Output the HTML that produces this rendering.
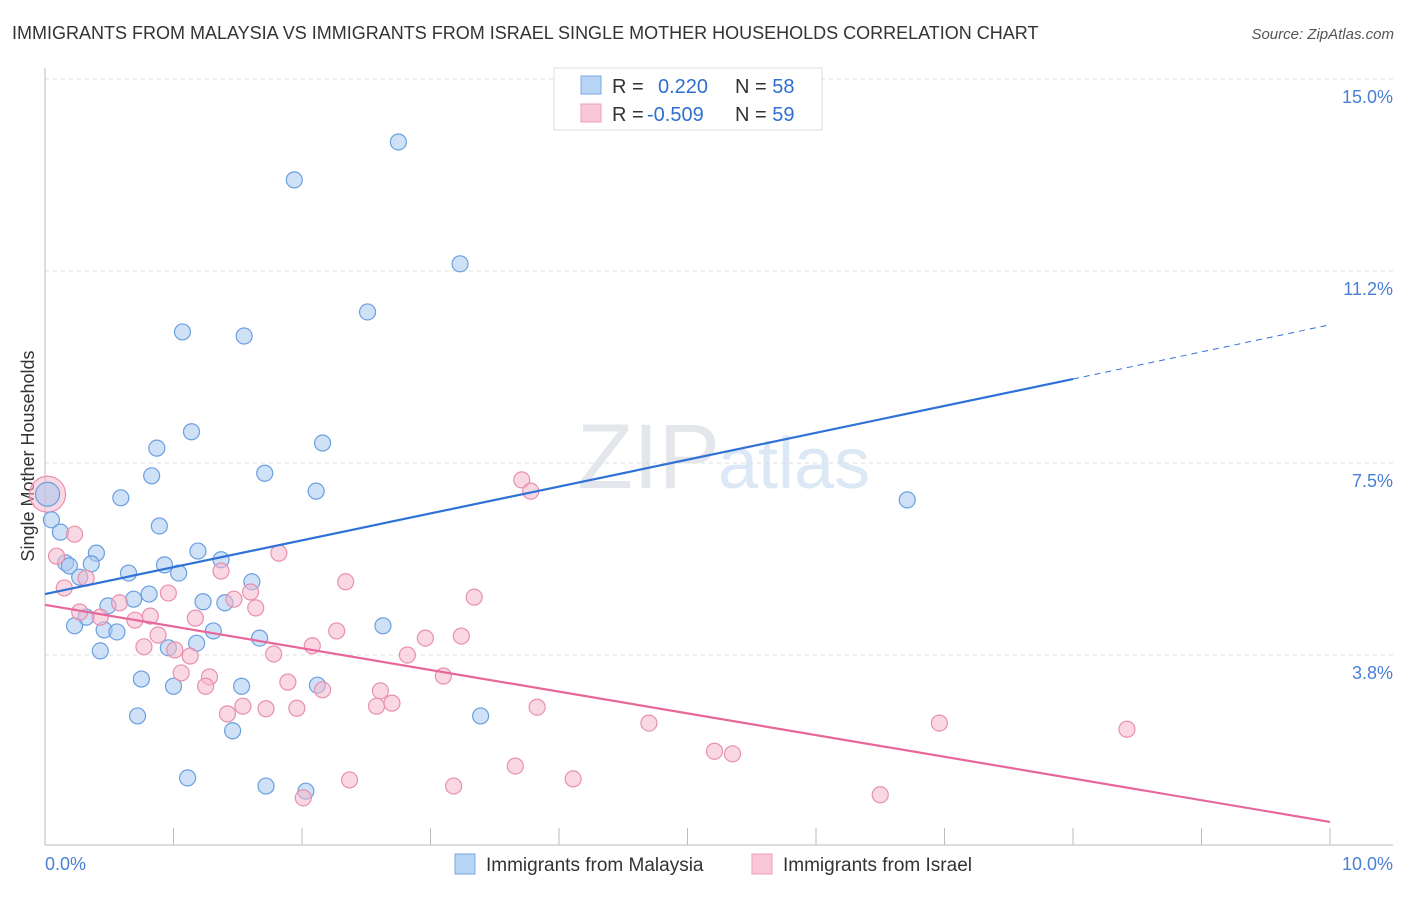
<!DOCTYPE html>
<html><head><meta charset="utf-8"><style>
body{margin:0;background:#fff;font-family:"Liberation Sans",sans-serif}
svg text{font-family:"Liberation Sans",sans-serif}
</style></head><body>
<svg id="c" width="1406" height="892">
<text x="12" y="39" font-size="18" fill="#333">IMMIGRANTS FROM MALAYSIA VS IMMIGRANTS FROM ISRAEL SINGLE MOTHER HOUSEHOLDS CORRELATION CHART</text>
<text x="1394" y="39" font-size="15" fill="#555" text-anchor="end" font-style="italic">Source: ZipAtlas.com</text>
<text x="720" y="488" font-size="92" fill="#e3e6ea" text-anchor="end" font-family="Liberation Serif">ZIP</text>
<text x="718" y="488" font-size="72" fill="#dce8f6">atlas</text>
<text transform="translate(34,456) rotate(-90)" font-size="18" fill="#333" text-anchor="middle">Single Mother Households</text>
<g id="grid"></g><g id="pts"></g><g id="trend"></g>
<g>
<rect x="554" y="68" width="268" height="62" fill="#fff" stroke="#ddd"/>
<rect x="581" y="76" width="20" height="18" fill="#b8d4f5" stroke="#7aaae6"/>
<rect x="581" y="104" width="20" height="18" fill="#f9c8d8" stroke="#ee9fba"/>
<text x="612" y="93" font-size="20" fill="#333">R = <tspan x="658" fill="#2f6fd0">0.220</tspan><tspan x="735" fill="#333">N = </tspan><tspan fill="#2f6fd0">58</tspan></text>
<text x="612" y="121" font-size="20" fill="#333">R = <tspan x="647" fill="#2f6fd0">-0.509</tspan><tspan x="735" fill="#333">N = </tspan><tspan fill="#2f6fd0">59</tspan></text>
</g>
<g>
<rect x="455" y="854" width="20" height="20" fill="#b8d4f5" stroke="#7aaae6"/>
<text x="486" y="871" font-size="19" fill="#333">Immigrants from Malaysia</text>
<rect x="752" y="854" width="20" height="20" fill="#f9c8d8" stroke="#ee9fba"/>
<text x="783" y="871" font-size="19" fill="#333">Immigrants from Israel</text>
</g>
<text x="45" y="870" font-size="18" fill="#4a7fd4">0.0%</text>
<text x="1393" y="870" font-size="18" fill="#4a7fd4" text-anchor="end">10.0%</text>
</svg>
<script>
const yTicks=[15.0,11.25,7.5,3.75];
const yTickLabels=["15.0%","11.2%","7.5%","3.8%"];
const xTicks=[0,1,2,3,4,5,6,7,8,9,10];
const blueX=[2.75,1.94,3.23,2.51,1.07,1.55,1.14,2.16,0.87,1.71,0.83,2.11,0.59,6.71,0.05,0.12,0.89,0.40,1.19,1.37,0.16,0.19,0.36,0.27,0.65,0.93,1.04,1.61,0.81,0.69,1.23,1.40,0.49,0.32,0.23,0.46,0.56,1.31,1.67,2.63,0.96,1.18,0.43,0.75,1.00,1.53,2.12,0.72,1.46,3.39,1.11,1.72,2.03];
const blueY=[13.77,13.03,11.39,10.45,10.06,9.98,8.11,7.89,7.79,7.30,7.25,6.95,6.82,6.78,6.39,6.15,6.27,5.74,5.78,5.61,5.55,5.49,5.53,5.27,5.35,5.51,5.35,5.18,4.94,4.84,4.79,4.77,4.71,4.49,4.32,4.24,4.20,4.22,4.08,4.32,3.89,3.98,3.83,3.28,3.14,3.14,3.16,2.56,2.27,2.56,1.35,1.19,1.09];
const pinkX=[0.23,0.09,0.32,0.15,0.58,0.27,0.43,0.70,0.82,0.96,1.17,1.37,1.82,1.60,1.47,1.64,0.88,0.77,1.01,1.13,1.06,1.28,1.25,1.78,1.42,1.54,1.72,1.89,1.96,2.08,2.16,2.27,2.34,2.61,2.58,2.70,2.82,2.96,3.24,3.34,3.10,3.71,3.78,3.83,4.70,5.21,5.35,3.66,4.11,3.18,2.37,2.01,6.50,6.96,8.42];
const pinkY=[6.11,5.68,5.25,5.06,4.77,4.59,4.49,4.43,4.51,4.96,4.47,5.39,5.74,4.98,4.84,4.67,4.14,3.91,3.85,3.73,3.40,3.32,3.14,3.77,2.60,2.75,2.70,3.22,2.71,3.93,3.07,4.22,5.18,3.05,2.75,2.81,3.75,4.08,4.12,4.88,3.34,7.17,6.95,2.73,2.42,1.87,1.82,1.58,1.33,1.19,1.31,0.96,1.02,2.42,2.30];
const bigPoint=[0.02,6.89];
const blueTrend=[[0,4.94],[8,9.14],[10,10.20]];
const pinkTrend=[[0,4.73],[10,0.49]];
const NS='http://www.w3.org/2000/svg';
const X=v=>45+v*128.5, Y=v=>79+(15-v)*51.2;
function mk(tag,attrs,parent){const e=document.createElementNS(NS,tag);for(const k in attrs)e.setAttribute(k,attrs[k]);parent.appendChild(e);return e;}
const grid=document.getElementById('grid');
yTicks.forEach((t,i)=>{
 const l=mk('line',{x1:45,x2:1393,y1:Y(t),y2:Y(t),stroke:'#ddd','stroke-dasharray':'4,4'},grid);
 
 
 const tx=mk('text',{x:1393,y:Y(t)+24,'font-size':18,fill:'#4a7fd4','text-anchor':'end'},grid);
 tx.textContent=yTickLabels[i];
 
 
});
const ax=mk('line',{x1:45,x2:1393,y1:845,y2:845,stroke:'#bbb'},grid);


const ay=mk('line',{x1:45,x2:45,y1:68,y2:845,stroke:'#bbb'},grid);


xTicks.forEach(t=>{
 const l=mk('line',{x1:X(t),x2:X(t),y1:828,y2:845,stroke:'#bbb'},grid);
 
 
});
const pts=document.getElementById('pts');
function dot(x,y,r,f,s,name){const c=mk('circle',{cx:X(x),cy:Y(y),r:r,fill:f,'fill-opacity':0.55,stroke:s,'stroke-width':1.2},pts);
 
 }
dot(bigPoint[0],bigPoint[1],18,'#f5b8cc','#e890ad','israel-point-large');
dot(bigPoint[0],bigPoint[1],12,'#a8c8f0','#6a9fe0','malaysia-point-large');
blueX.forEach((x,i)=>dot(x,blueY[i],8,'#a8c8f0','#6a9fe0','malaysia-point'));
pinkX.forEach((x,i)=>dot(x,pinkY[i],8,'#f5b8cc','#e890ad','israel-point'));
const tr=document.getElementById('trend');
const b1=mk('line',{x1:X(blueTrend[0][0]),y1:Y(blueTrend[0][1]),x2:X(blueTrend[1][0]),y2:Y(blueTrend[1][1]),stroke:'#2f72d6','stroke-width':2.2},tr);


const b2=mk('line',{x1:X(blueTrend[1][0]),y1:Y(blueTrend[1][1]),x2:X(blueTrend[2][0]),y2:Y(blueTrend[2][1]),stroke:'#2f72d6','stroke-width':1,'stroke-dasharray':'6,5'},tr);


const p1=mk('line',{x1:X(pinkTrend[0][0]),y1:Y(pinkTrend[0][1]),x2:X(pinkTrend[1][0]),y2:Y(pinkTrend[1][1]),stroke:'#e8679a','stroke-width':2.2},tr);


</script>
</body></html>
